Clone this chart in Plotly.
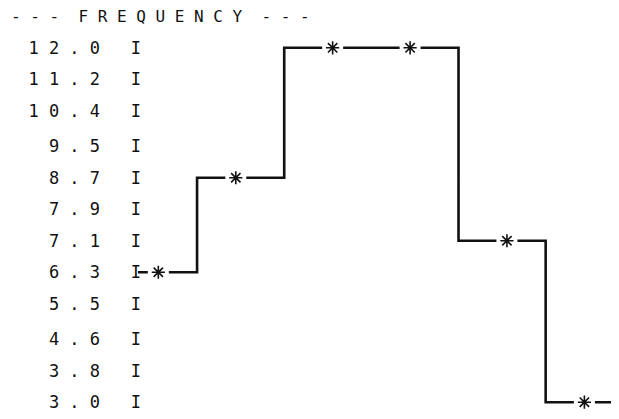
import plotly.graph_objects as go

# printed row labels of the frequency axis (top to bottom)
y_labels = ["12.0", "11.2", "10.4", "9.5", "8.7", "7.9", "7.1", "6.3", "5.5", "4.6", "3.8", "3.0"]
# print column of each class mark and its frequency
class_col = [0, 4, 9, 13, 18, 22]
freq = [6.3, 8.7, 12.0, 12.0, 7.1, 3.0]

MONO = "DejaVu Sans Mono, Liberation Mono, monospace"
INK = "#111111"

def spaced(s):
    return " ".join(s)

tickvals = [float(v) for v in y_labels]
ticktext = [spaced(v) + "   I" for v in y_labels]

x_lo, x_hi = class_col[0] - 1.05, class_col[-1] + 2.2
step_x = [x_lo] + class_col + [class_col[-1] + 1.6]
step_y = [freq[0]] + freq + [freq[-1]]

fig = go.Figure()
fig.add_trace(go.Scatter(
    x=step_x, y=step_y, mode="lines", line_shape="hvh",
    line=dict(color=INK, width=2.6), hoverinfo="skip"
))
# white patch behind each star so the line breaks around it
fig.add_trace(go.Scatter(
    x=class_col, y=freq, mode="markers",
    marker=dict(symbol="square", size=21, color="white"), hoverinfo="skip"
))
fig.add_trace(go.Scatter(
    x=class_col, y=freq, mode="markers",
    marker=dict(symbol="asterisk-open", size=11, color=INK, line=dict(color=INK, width=1.6))
))

fig.update_layout(
    width=619, height=419,
    margin=dict(l=130, r=0, t=28, b=13),
    paper_bgcolor="white", plot_bgcolor="white",
    showlegend=False,
    title=dict(
        text="- - -  " + spaced("FREQUENCY") + "  - - -",
        x=3 / 619, xanchor="left", y=1 - 8 / 419, yanchor="middle",
        font=dict(family=MONO, size=16, color=INK)
    ),
    xaxis=dict(visible=False, range=[x_lo, x_hi]),
    yaxis=dict(
        range=[2.7, 12.3], tickmode="array", tickvals=tickvals, ticktext=ticktext,
        showgrid=False, zeroline=False, showline=False, ticks="",
        ticklabelstandoff=-4,
        tickfont=dict(family=MONO, size=17, color=INK)
    ),
)

fig.write_html("out.html")
